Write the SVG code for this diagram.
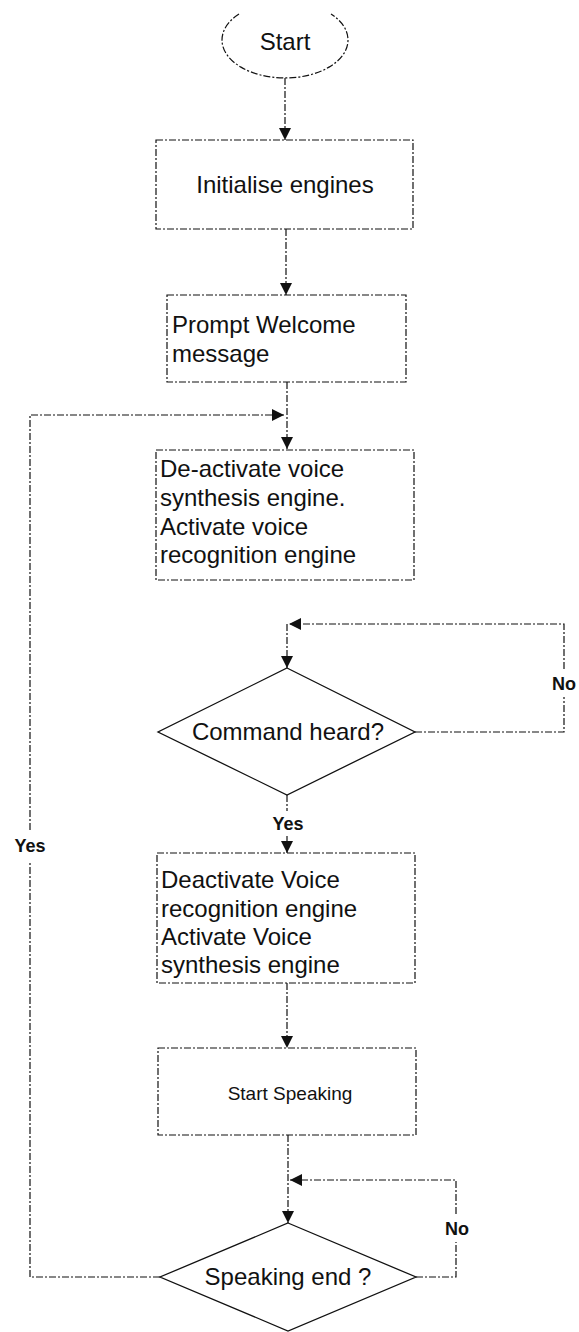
<svg xmlns="http://www.w3.org/2000/svg" width="579" height="1332" viewBox="0 0 579 1332">
  <defs>
    <style>
      .box { fill: none; stroke: #111; stroke-width: 1.2; stroke-dasharray: 7 2 2 2; }
      .dia { fill: none; stroke: #111; stroke-width: 1.3; }
      .edge { fill: none; stroke: #111; stroke-width: 1.2; stroke-dasharray: 7 2 2 2; }
      .t { font-family: "Liberation Sans", Arial, sans-serif; font-size: 24px; fill: #111; }
      .ts { font-family: "Liberation Sans", Arial, sans-serif; font-size: 19px; fill: #111; }
      .lbl { font-family: "Liberation Sans", Arial, sans-serif; font-size: 18px; font-weight: bold; fill: #111; }
    </style>
    <marker id="arr" viewBox="0 0 10 10" refX="10" refY="5" markerWidth="12" markerHeight="12" markerUnits="userSpaceOnUse" orient="auto">
      <path d="M0,0 L10,5 L0,10 Z" fill="#111"/>
    </marker>
  </defs>

  <rect width="579" height="1332" fill="#fff"/>

  <!-- connectors -->
  <g id="connectors">
    <path class="edge" d="M285,78 L285,140" marker-end="url(#arr)"/>
    <path class="edge" d="M286,229 L286,295" marker-end="url(#arr)"/>
    <path class="edge" d="M287,382 L287,449" marker-end="url(#arr)"/>
    <!-- Yes loop from Speaking end back to the listening step -->
    <path class="edge" d="M160,1277 L30,1277 L30,862"/>
    <path class="edge" d="M30,830 L30,415 L284,415" marker-end="url(#arr)"/>
    <!-- No loop around Command heard? -->
    <path class="edge" d="M415,732 L564,732 L564,697"/>
    <path class="edge" d="M564,669 L564,624 L289,624" marker-end="url(#arr)"/>
    <path class="edge" d="M287,624 L287,668" marker-end="url(#arr)"/>
    <path class="edge" d="M287,795 L287,811"/>
    <path class="edge" d="M287,836 L287,853" marker-end="url(#arr)"/>
    <path class="edge" d="M287,983 L287,1048" marker-end="url(#arr)"/>
    <path class="edge" d="M288,1135 L288,1223" marker-end="url(#arr)"/>
    <!-- No loop around Speaking end ? -->
    <path class="edge" d="M416,1277 L456,1277 L456,1242"/>
    <path class="edge" d="M456,1214 L456,1180 L290,1180" marker-end="url(#arr)"/>
    <text class="lbl" x="30" y="852" text-anchor="middle">Yes</text>
    <text class="lbl" x="564" y="690" text-anchor="middle">No</text>
    <text class="lbl" x="288" y="830" text-anchor="middle">Yes</text>
    <text class="lbl" x="457" y="1235" text-anchor="middle">No</text>
  </g>

  <g id="start">
    <path class="box" d="M239,14 A63,38 0 1 0 331,14"/>
    <text class="t" x="285" y="50" text-anchor="middle">Start</text>
  </g>

  <g id="init">
    <rect class="box" x="156" y="140" width="257" height="89"/>
    <text class="t" x="285" y="193" text-anchor="middle">Initialise engines</text>
  </g>

  <g id="welcome">
    <rect class="box" x="167" y="295" width="239" height="87"/>
    <text class="t" x="172" y="333">Prompt Welcome</text>
    <text class="t" x="172" y="362">message</text>
  </g>

  <g id="listen">
    <rect class="box" x="156" y="450" width="258" height="130"/>
    <text class="t" x="160" y="477">De-activate voice</text>
    <text class="t" x="160" y="506">synthesis engine.</text>
    <text class="t" x="160" y="535">Activate voice</text>
    <text class="t" x="160" y="563">recognition engine</text>
  </g>

  <g id="command">
    <polygon class="dia" points="287,668 415,732 287,795 158,732"/>
    <text class="t" x="288" y="740" text-anchor="middle">Command heard?</text>
  </g>

  <g id="speakmode">
    <rect class="box" x="157" y="853" width="258" height="130"/>
    <text class="t" x="161" y="888">Deactivate Voice</text>
    <text class="t" x="161" y="917">recognition engine</text>
    <text class="t" x="161" y="945">Activate Voice</text>
    <text class="t" x="161" y="973">synthesis engine</text>
  </g>

  <g id="speak">
    <rect class="box" x="158" y="1048" width="258" height="87"/>
    <text class="ts" x="290" y="1100" text-anchor="middle">Start Speaking</text>
  </g>

  <g id="speakend">
    <polygon class="dia" points="288,1223 416,1277 288,1331 160,1277"/>
    <text class="t" x="288" y="1285" text-anchor="middle">Speaking end ?</text>
  </g>
</svg>
